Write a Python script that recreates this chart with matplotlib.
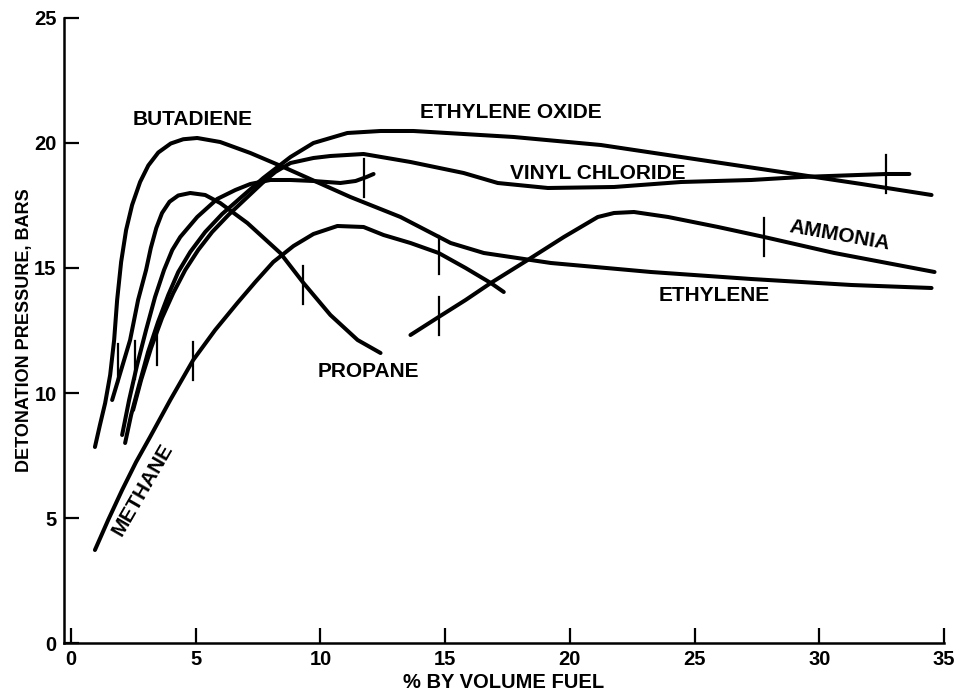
import matplotlib
matplotlib.use('Agg')
import matplotlib.pyplot as plt

plt.rcParams['font.family'] = ['Liberation Sans', 'DejaVu Sans']

# curves (% fuel, bars)
ethylene_x = [0.96, 1.16, 1.37, 1.57, 1.73, 1.85, 2.01, 2.21, 2.45, 2.77, 3.1, 3.5, 4.0, 4.5, 5.06, 5.98,
              7.19, 8.51, 11.2, 13.21, 15.22, 16.55, 19.24, 23.25, 27.27, 31.29, 34.5]
ethylene_y = [7.84, 8.72, 9.6, 10.72, 12.12, 13.72, 15.24, 16.52, 17.52, 18.44, 19.1, 19.62, 19.98, 20.15, 20.2, 20.04,
              19.6, 19.04, 17.84, 17.04, 16.0, 15.6, 15.2, 14.84, 14.56, 14.32, 14.2]

propane_x = [1.65, 2.01, 2.37, 2.69, 3.01, 3.2, 3.42, 3.65, 3.95, 4.3, 4.78, 5.38, 5.98, 7.07, 8.39,
             9.32, 10.4, 11.49, 12.41]
propane_y = [9.72, 10.92, 12.12, 13.72, 14.92, 15.8, 16.6, 17.2, 17.65, 17.9, 18.0, 17.92, 17.6, 16.8, 15.6,
             14.4, 13.12, 12.12, 11.6]

butadiene_x = [2.05, 2.33, 2.65, 3.01, 3.37, 3.73, 4.06, 4.38, 5.06, 5.86, 6.59, 7.19, 7.99, 8.8,
               9.72, 10.8, 11.41, 11.85, 12.13]
butadiene_y = [8.32, 9.72, 11.12, 12.52, 13.84, 14.92, 15.72, 16.24, 17.04, 17.76, 18.12, 18.36, 18.52, 18.52,
               18.48, 18.4, 18.48, 18.64, 18.76]

eo_x = [2.17, 2.41, 2.73, 3.09, 3.49, 3.9, 4.3, 4.78, 5.38, 6.06, 6.79, 7.71, 8.8, 9.72, 11.08,
        12.41, 13.73, 17.75, 21.24, 25.26, 29.28, 31.69, 34.5]
eo_y = [8.0, 9.12, 10.32, 11.64, 12.84, 13.92, 14.84, 15.64, 16.44, 17.16, 17.8, 18.6, 19.44, 20.0, 20.4,
        20.48, 20.48, 20.24, 19.92, 19.32, 18.72, 18.36, 17.92]

vc_x = [2.49, 2.81, 3.21, 3.65, 4.1, 4.58, 5.1, 5.66, 6.31, 6.99, 7.67, 8.19, 8.8, 9.72, 10.4, 11.73,
        13.61, 15.74, 17.11, 19.12, 21.77, 24.46, 27.27, 29.28, 32.69, 33.61]
vc_y = [9.32, 10.52, 11.8, 13.0, 14.0, 14.92, 15.72, 16.44, 17.12, 17.76, 18.4, 18.84, 19.2, 19.4, 19.48, 19.56,
        19.24, 18.8, 18.4, 18.2, 18.24, 18.44, 18.52, 18.64, 18.76, 18.76]

methane_x = [0.96, 1.49, 2.05, 2.61, 3.17, 3.98, 4.9, 5.78, 6.67, 7.39, 8.11, 8.92, 9.72, 10.68,
             11.73, 12.53, 13.61, 14.74, 15.82, 16.83, 17.35]
methane_y = [3.72, 4.92, 6.12, 7.24, 8.24, 9.72, 11.32, 12.52, 13.6, 14.44, 15.24, 15.88, 16.36, 16.68,
             16.64, 16.32, 16.0, 15.6, 15.0, 14.4, 14.04]

ammonia_x = [13.61, 14.74, 15.82, 16.83, 18.31, 19.76, 21.12, 21.77, 22.57, 23.94, 25.94, 27.79, 30.6, 34.62]
ammonia_y = [12.32, 13.04, 13.72, 14.4, 15.32, 16.24, 17.04, 17.2, 17.24, 17.04, 16.64, 16.24, 15.6, 14.84]

# short vertical limit marks
mark_x = [1.89, 2.57, 3.45, 4.9, 9.32, 14.74, 14.74, 27.79, 11.73, 32.69]
mark_y = [11.2, 11.32, 11.88, 11.28, 14.32, 15.52, 13.08, 16.24, 18.6, 18.76]

labels = ['BUTADIENE', 'ETHYLENE OXIDE', 'VINYL CHLORIDE', 'AMMONIA', 'ETHYLENE', 'PROPANE', 'METHANE']
label_x = [4.86, 17.63, 21.12, 30.8, 25.78, 11.93, 2.89]
label_y = [20.92, 21.2, 18.76, 16.32, 13.88, 10.88, 6.12]
label_rot = [0, 0, 0, -10, 0, 0, 60]

xticks = [0, 5, 10, 15, 20, 25, 30, 35]
yticks = [0, 5, 10, 15, 20, 25]

fig = plt.figure(figsize=(9.55, 6.92), dpi=100)
ax = fig.add_axes([0.0665, 0.0708, 0.922, 0.9032])

curves = [(ethylene_x, ethylene_y), (propane_x, propane_y), (butadiene_x, butadiene_y),
          (eo_x, eo_y), (vc_x, vc_y), (methane_x, methane_y), (ammonia_x, ammonia_y)]
for cx, cy in curves:
    ax.plot(cx, cy, color='black', lw=2.9, solid_capstyle='round', solid_joinstyle='round')

for mx, my in zip(mark_x, mark_y):
    ax.plot([mx, mx], [my - 0.75, my + 0.75], color='black', lw=1.6)

for t, lx, ly, r in zip(labels, label_x, label_y, label_rot):
    ax.text(lx, ly, t, ha='center', va='center', rotation=r, fontsize=15,
            fontweight='bold', color='black')

ax.set_xlim(-0.3, 35.0)
ax.set_ylim(0, 25)
ax.set_xticks(xticks)
ax.set_yticks(yticks)
ax.spines['top'].set_visible(False)
ax.spines['right'].set_visible(False)
for s in ['left', 'bottom']:
    ax.spines[s].set_linewidth(1.8)
ax.tick_params(direction='in', length=11, width=1.6, labelsize=14.5, pad=5)
for lab in ax.get_xticklabels() + ax.get_yticklabels():
    lab.set_fontweight('bold')

ax.set_xlabel('% BY VOLUME FUEL', fontsize=14.5, fontweight='bold', labelpad=3)
ax.set_ylabel('DETONATION PRESSURE, BARS', fontsize=13, fontweight='bold', labelpad=1)

fig.savefig('out.png', dpi=100)
